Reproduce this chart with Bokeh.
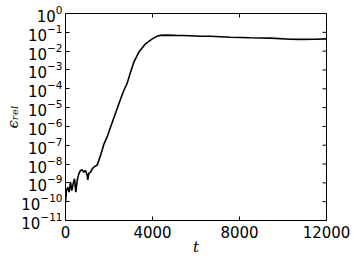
import math
from bokeh.plotting import figure
from bokeh.models import (FixedTicker, LogTickFormatter, Range1d,
                          ColumnDataSource)
from bokeh.embed import file_html
from bokeh.resources import INLINE

# --- data ---
t = [0, 46, 106, 170, 230, 290, 354, 414, 474, 538, 612, 690, 768, 841, 920,
     998, 1025, 1071, 1150, 1228, 1301, 1458, 1609, 1761, 1917, 2069, 2299,
     2529, 2681, 2837, 2989, 3140, 3370, 3678, 3986, 4216, 4368, 4598, 5058,
     5426, 6207, 6667, 7586, 8506, 9426, 10345, 10805, 11495, 12000]
eps_rel = [9.3e-11, 3.9e-10, 5.9e-10, 3.2e-10, 1.1e-9, 3.9e-10, 8.9e-10,
           1.66e-9, 3.2e-10, 1.35e-9, 3.0e-9, 4.6e-9, 4.9e-9, 3.7e-9, 4.6e-9,
           2.5e-9, 1.45e-9, 3.2e-9, 3.7e-9, 5.6e-9, 6.8e-9, 8.9e-9, 2.8e-8,
           1.1e-7, 2.8e-7, 9.1e-7, 5.0e-6, 2.8e-5, 8.1e-5, 2.0e-4, 7.6e-4,
           2.6e-3, 8.7e-3, 2.45e-2, 4.5e-2, 6.3e-2, 6.9e-2, 7.1e-2, 6.9e-2,
           6.8e-2, 6.2e-2, 6.2e-2, 5.5e-2, 5.1e-2, 4.9e-2, 4.3e-2, 4.2e-2,
           4.3e-2, 4.5e-2]
x_ticks = [0, 4000, 8000, 12000]
y_ticks = [1e-11, 1e-10, 1e-9, 1e-8, 1e-7, 1e-6, 1e-5, 1e-4, 1e-3, 1e-2, 1e-1, 1e0]
x_min, x_max = 0, 12000
y_min, y_max = 1e-11, 1e0
x_label = "t"
y_label = "ϵᵣₑₗ"

FONT = "DejaVu Sans"
SERIF = "DejaVu Serif"

p = figure(width=354, height=261, y_axis_type="log",
           x_range=Range1d(x_min, x_max), y_range=Range1d(y_min, y_max),
           output_backend="svg", toolbar_location=None,
           min_border_left=65, min_border_right=28,
           min_border_top=13, min_border_bottom=41)
p.background_fill_color = "white"
p.border_fill_color = "white"
p.outline_line_color = "black"
p.outline_line_width = 1
p.xgrid.visible = False
p.ygrid.visible = False

src = ColumnDataSource(dict(t=t, eps=eps_rel))
p.line("t", "eps", source=src, line_color="black", line_width=1.6)

for ax in (p.xaxis[0], p.yaxis[0]):
    ax.axis_line_color = "black"
    ax.major_tick_line_color = "black"
    ax.major_tick_in = 4
    ax.major_tick_out = 0
    ax.minor_tick_line_color = None
    ax.major_label_text_font = FONT
    ax.major_label_text_color = "black"
    ax.major_label_text_font_size = "15px"
    ax.axis_label_text_font = SERIF
    ax.axis_label_text_font_style = "italic"
    ax.axis_label_text_font_size = "15px"
    ax.axis_label_text_color = "black"

p.xaxis.ticker = FixedTicker(ticks=x_ticks)
p.xaxis.major_label_standoff = 5
p.xaxis.axis_label = x_label
p.xaxis.axis_label_standoff = -3

p.yaxis.ticker = FixedTicker(ticks=y_ticks)
p.yaxis.formatter = LogTickFormatter()
p.yaxis.major_label_standoff = 3
p.yaxis.axis_label = y_label
p.yaxis.axis_label_standoff = -4
p.yaxis.axis_label_text_line_height = 0.85

# inward ticks on the top and right frame edges
p.ray(x=[x_max] * len(y_ticks), y=y_ticks, length=4, length_units="screen",
      angle=math.pi, line_color="black", line_width=1)
p.ray(x=x_ticks, y=[y_max] * len(x_ticks), length=4, length_units="screen",
      angle=-math.pi / 2, line_color="black", line_width=1)

open("out.html", "w").write(file_html(p, INLINE))
